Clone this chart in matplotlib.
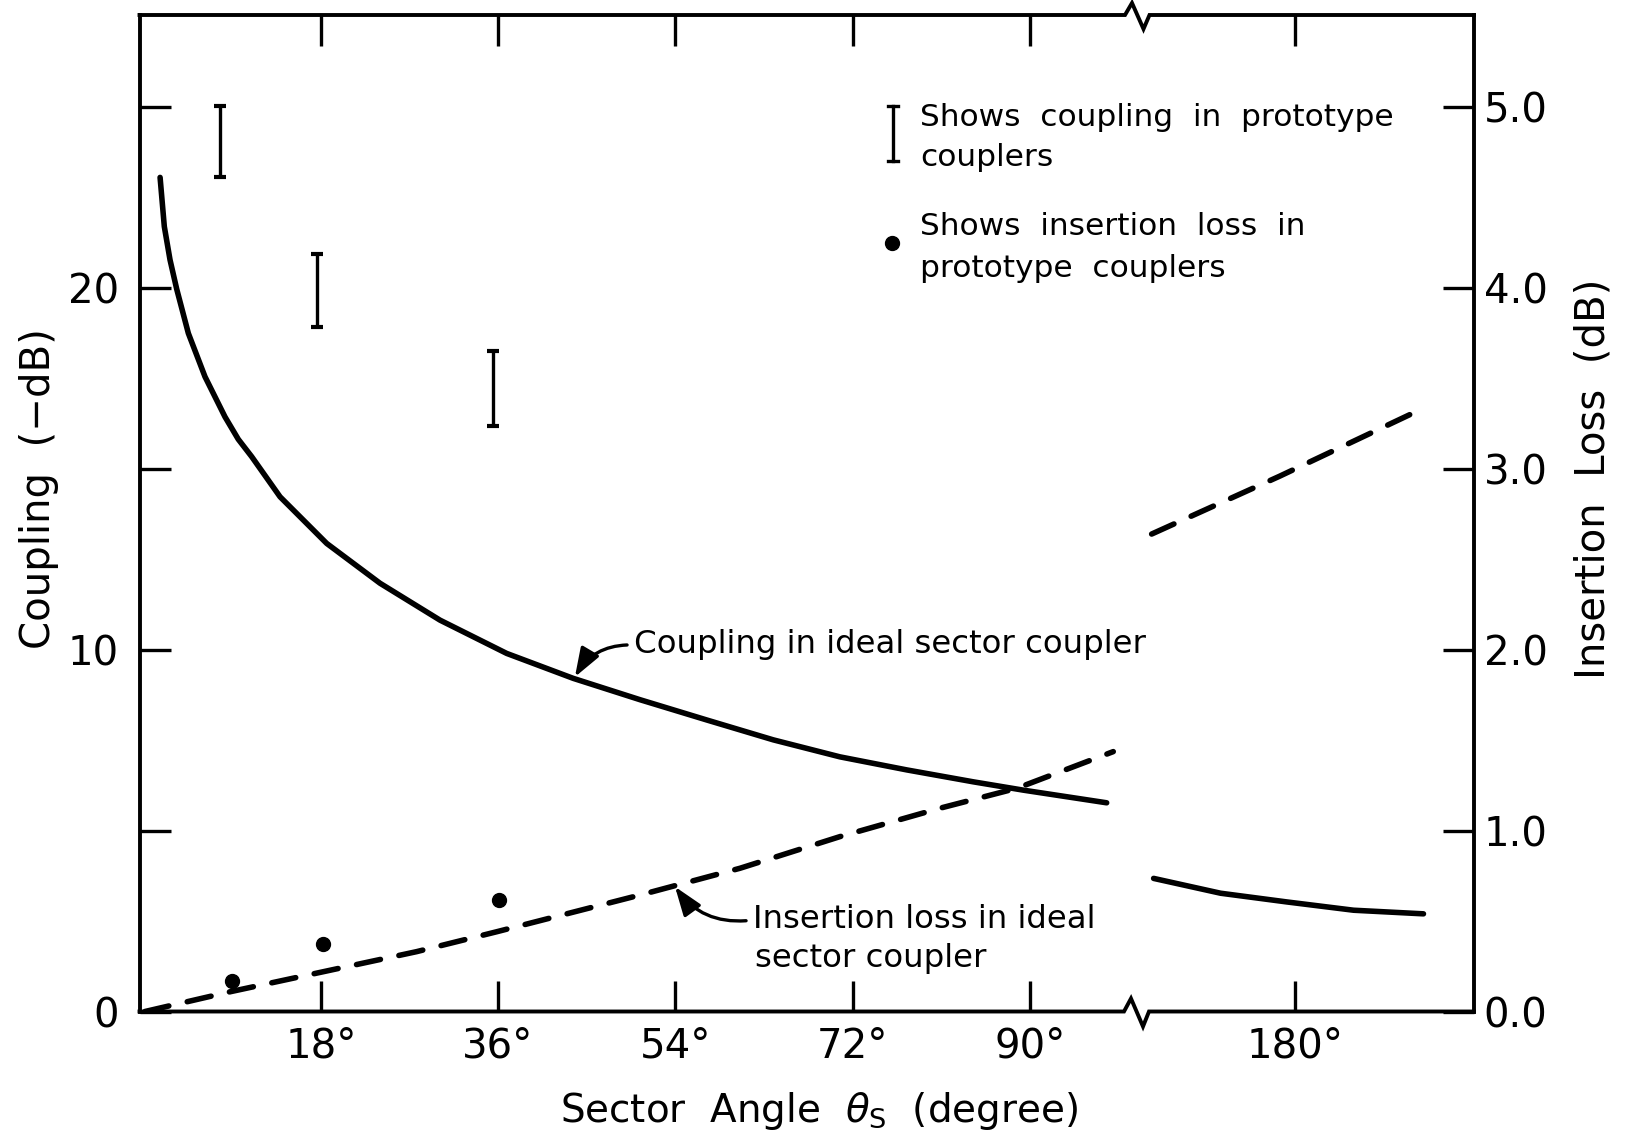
import numpy as np
import matplotlib
matplotlib.use("Agg")
import matplotlib.pyplot as plt
from matplotlib.lines import Line2D
from matplotlib.ticker import FixedLocator, FixedFormatter, NullLocator

# ---------------- data ----------------
# Coupling in ideal sector coupler (left axis, -dB)
coupling_theta_left = [1.68, 2.11, 2.69, 3.37, 4.55, 6.24, 8.27, 9.62, 10.98, 13.86, 18.60,
                       24.01, 30.10, 36.87, 43.63, 50.41, 57.18, 63.94, 70.71, 77.48,
                       84.24, 89.32, 97.79]
coupling_db_left = [23.06, 21.70, 20.78, 19.97, 18.75, 17.55, 16.44, 15.82, 15.34, 14.23, 12.94,
                    11.84, 10.82, 9.90, 9.21, 8.62, 8.06, 7.51, 7.04, 6.68,
                    6.35, 6.12, 5.77]
coupling_theta_right = [165.6, 172.4, 179.1, 185.9, 193.0]
coupling_db_right = [3.68, 3.27, 3.03, 2.80, 2.70]

# Insertion loss in ideal sector coupler (right axis, dB)
loss_theta_left = [0.15, 8.78, 18.25, 27.73, 35.86, 50.41, 60.56, 70.71, 80.86, 88.65, 98.46]
loss_db_left = [0.0, 0.109, 0.220, 0.331, 0.441, 0.644, 0.792, 0.967, 1.124, 1.234, 1.437]
loss_theta_right = [165.4, 178.4, 191.6]
loss_db_right = [2.64, 2.96, 3.30]

# Prototype couplers
proto_coupling_theta = [7.8, 17.6, 35.5]
proto_coupling_low = [23.06, 18.92, 16.19]
proto_coupling_high = [25.03, 20.94, 18.27]
proto_loss_theta = [9.0, 18.2, 36.1]
proto_loss_db = [0.170, 0.372, 0.617]

x_ticks = [18, 36, 54, 72, 90, 180]
x_tick_labels = ["18°", "36°", "54°", "72°", "90°", "180°"]
left_ticks = [0, 5, 10, 15, 20, 25]
left_tick_labels = ["0", "", "10", "", "20", ""]
right_ticks = [0, 1, 2, 3, 4, 5]
right_tick_labels = ["0.0", "1.0", "2.0", "3.0", "4.0", "5.0"]

# ---------------- broken x scale ----------------
BRK_A = 100.76      # last angle of left part
SHIFT = 63.05       # angles skipped by the break
EPS = 1e-4


def fwd(t):
    t = np.asarray(t, dtype=float)
    return np.where(t <= BRK_A, t,
                    np.where(t >= BRK_A + SHIFT, t - SHIFT + SHIFT * EPS,
                             BRK_A + (t - BRK_A) * EPS))


def inv(u):
    u = np.asarray(u, dtype=float)
    g = BRK_A + SHIFT * EPS
    return np.where(u <= BRK_A, u,
                    np.where(u >= g, u + SHIFT - SHIFT * EPS,
                             BRK_A + (u - BRK_A) / EPS))


# ---------------- figure ----------------
W, H = 1625, 1136
fig = plt.figure(figsize=(W / 100, H / 100), dpi=100)
plt.rcParams["font.family"] = ["DejaVu Sans"]
PL, PR, PT, PB = 139.5, 1474.0, 15.0, 1011.5
ax = fig.add_axes([PL / W, 1 - PB / H, (PR - PL) / W, (PB - PT) / H])
ax2 = ax.twinx()

ax.set_xscale("function", functions=(fwd, inv))
ax.set_xlim(-0.41, 198.13)
ax.set_ylim(0, 27.55)
ax2.set_ylim(0, 5.51)

LW = 4.0
DASH = (4.4, 3.4)
ax.plot(coupling_theta_left, coupling_db_left, color="black", lw=LW,
        solid_capstyle="round", solid_joinstyle="round")
ax.plot(coupling_theta_right, coupling_db_right, color="black", lw=LW,
        solid_capstyle="round", solid_joinstyle="round")
ax2.plot(loss_theta_left, loss_db_left, color="black", lw=LW, dashes=DASH,
         dash_capstyle="round")
ax2.plot(loss_theta_right, loss_db_right, color="black", lw=LW, dashes=DASH,
         dash_capstyle="round")

lo = np.array(proto_coupling_low)
hi = np.array(proto_coupling_high)
ax.errorbar(proto_coupling_theta, (lo + hi) / 2, yerr=(hi - lo) / 2, fmt="none",
            ecolor="black", elinewidth=2.4, capsize=4, capthick=3)
ax2.plot(proto_loss_theta, proto_loss_db, "o", color="black", ms=10)

# ticks
TICK_FS = 29
ax.xaxis.set_major_locator(FixedLocator(x_ticks))
ax.xaxis.set_major_formatter(FixedFormatter(x_tick_labels))
ax.xaxis.set_minor_locator(NullLocator())
ax.tick_params(axis="x", which="major", direction="in", length=22, width=2.4,
               top=True, bottom=True, labelsize=TICK_FS, pad=11)
ax.yaxis.set_major_locator(FixedLocator(left_ticks))
ax.yaxis.set_major_formatter(FixedFormatter(left_tick_labels))
ax.yaxis.set_minor_locator(NullLocator())
ax.tick_params(axis="y", which="major", direction="in", length=22, width=2.4,
               left=True, right=False, labelsize=TICK_FS, pad=15)
ax2.yaxis.set_major_locator(FixedLocator(right_ticks))
ax2.yaxis.set_major_formatter(FixedFormatter(right_tick_labels))
ax2.yaxis.set_minor_locator(NullLocator())
ax2.tick_params(axis="y", which="major", direction="in", length=22, width=2.4,
                right=True, left=False, labelsize=TICK_FS, pad=7)

for a in (ax, ax2):
    for s in a.spines.values():
        s.set_visible(False)


# frame with break marks (figure pixel positions)
def P(px, py):
    return px / W, 1 - py / H


def frame_line(pts):
    xs, ys = zip(*[P(x, y) for x, y in pts])
    fig.add_artist(Line2D(xs, ys, transform=fig.transFigure, color="black", lw=2.8,
                          solid_joinstyle="miter", solid_capstyle="projecting"))


frame_line([(PL, PT), (PL, PB)])
frame_line([(PR, PT), (PR, PB)])
frame_line([(PL, PB), (1124, PB), (1131, PB - 13), (1143, PB + 15), (1149, PB), (PR, PB)])
frame_line([(PL, PT), (1125, PT), (1132, PT - 12), (1143.5, PT + 14), (1149.5, PT), (PR, PT)])

# axis labels
fig.text(39 / W, 1 - 489 / H, "Coupling  (−dB)", rotation=90, ha="center", va="center",
         fontsize=29)
fig.text(1593 / W, 1 - 479 / H, "Insertion  Loss  (dB)", rotation=90, ha="center",
         va="center", fontsize=29)
fig.text(819 / W, 1 - 1121.5 / H, r"Sector  Angle  $\theta_{\mathrm{S}}$  (degree)",
         ha="center", va="baseline", fontsize=28)

# annotations
ax.annotate("Coupling in ideal sector coupler", xy=(43.8, 9.25),
            xytext=(634, H - 645), textcoords="figure pixels", ha="left", va="center",
            fontsize=23.3,
            arrowprops=dict(arrowstyle="-|>,head_length=0.7,head_width=0.25",
                            connectionstyle="arc3,rad=0.3", lw=2.4, color="black",
                            relpos=(0, 0.5), shrinkA=3, shrinkB=0, mutation_scale=25))
ax2.annotate("Insertion loss in ideal", xy=(53.96, 0.690),
             xytext=(753, H - 920), textcoords="figure pixels", ha="left", va="center",
             fontsize=23.3,
             arrowprops=dict(arrowstyle="-|>,head_length=0.7,head_width=0.25",
                             connectionstyle="arc3,rad=-0.3", lw=2.4, color="black",
                             relpos=(0, 0.5), shrinkA=3, shrinkB=0, mutation_scale=25))
fig.text(755 / W, 1 - 958 / H, "sector coupler", ha="left", va="center", fontsize=23.3)

# legend (drawn by hand)
ex, ey0, ey1 = 893, 106, 161
frame_kw = dict(transform=fig.transFigure, color="black", lw=2.4)
fig.add_artist(Line2D(*zip(P(ex, ey0), P(ex, ey1)), **frame_kw))
fig.add_artist(Line2D(*zip(P(ex - 5, ey0), P(ex + 5, ey0)), **frame_kw))
fig.add_artist(Line2D(*zip(P(ex - 5, ey1), P(ex + 5, ey1)), **frame_kw))
dx, dy = P(892, 243)
fig.add_artist(Line2D([dx], [dy], marker="o", ms=10, color="black",
                      transform=fig.transFigure))
for txt, yb in [("Shows  coupling  in  prototype", 126), ("couplers", 166),
                ("Shows  insertion  loss  in", 235), ("prototype  couplers", 277)]:
    fig.text(920 / W, 1 - yb / H, txt, ha="left", va="baseline", fontsize=22.5)

fig.savefig("out.png", dpi=100, facecolor="white")
